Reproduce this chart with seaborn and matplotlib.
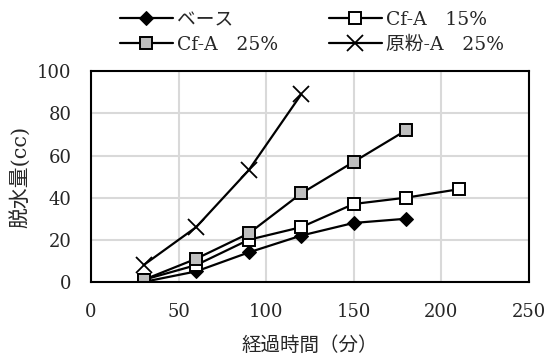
import matplotlib
matplotlib.use("Agg")
import matplotlib.pyplot as plt
import seaborn as sns
import pandas as pd

sns.set_theme(style="white")
plt.rcParams['font.family'] = ['DejaVu Serif', 'Noto Sans CJK JP', 'DejaVu Sans']

# Data
series_names = ["ベース", "Cf-A　15%", "Cf-A　25%", "原粉-A　25%"]
x_base = [30, 60, 90, 120, 150, 180]
y_base = [0, 5, 14, 22, 28, 30]
x_cf15 = [30, 60, 90, 120, 150, 180, 210]
y_cf15 = [1, 8, 20, 26, 37, 40, 44]
x_cf25 = [30, 60, 90, 120, 150, 180]
y_cf25 = [1, 11, 23, 42, 57, 72]
x_raw = [30, 60, 90, 120]
y_raw = [8, 26, 53, 89]

xs = [x_base, x_cf15, x_cf25, x_raw]
ys = [y_base, y_cf15, y_cf25, y_raw]

styles = [
    dict(marker="D", markersize=7.5, markerfacecolor="black", markeredgecolor="black"),
    dict(marker="s", markersize=9, markerfacecolor="white", markeredgecolor="black", markeredgewidth=1.4),
    dict(marker="s", markersize=9, markerfacecolor="#bfbfbf", markeredgecolor="black", markeredgewidth=1.4),
    dict(marker="x", markersize=11, markeredgecolor="black", markeredgewidth=1.3),
]

fig = plt.figure(figsize=(5.52, 3.56), dpi=100)
ax = fig.add_axes([0.165, 0.208, 0.793, 0.592])

for name, x, y, st in zip(series_names, xs, ys, styles):
    df = pd.DataFrame({"x": x, "y": y})
    sns.lineplot(data=df, x="x", y="y", ax=ax, color="black", linewidth=1.6,
                 label=name, **st)
h, l = ax.get_legend_handles_labels()
ax.get_legend().remove()

ax.set_xlim(0, 250)
ax.set_ylim(0, 100)
ax.set_xticks([0, 50, 100, 150, 200, 250])
ax.set_yticks([0, 20, 40, 60, 80, 100])
ax.grid(True, color="#d9d9d9", linewidth=1.5)
ax.set_axisbelow(True)
for s in ax.spines.values():
    s.set_color("black")
    s.set_linewidth(1.5)
ax.tick_params(axis="x", labelsize=13, length=0, pad=15)
ax.tick_params(axis="y", labelsize=13, length=0, pad=14)
ax.set_xlabel("経過時間（分）", fontsize=14, labelpad=11)
ax.set_ylabel("脱水量(cc)", fontsize=15, labelpad=4)

order = [0, 2, 1, 3]
fig.legend([h[i] for i in order], [l[i] for i in order], ncol=2,
           loc="upper left", bbox_to_anchor=(0.204, 0.99), frameon=False,
           fontsize=13.5, handlelength=2.8, columnspacing=2.7,
           labelspacing=0.35, handletextpad=0.25, borderaxespad=0)

fig.savefig("out.png", dpi=100)
